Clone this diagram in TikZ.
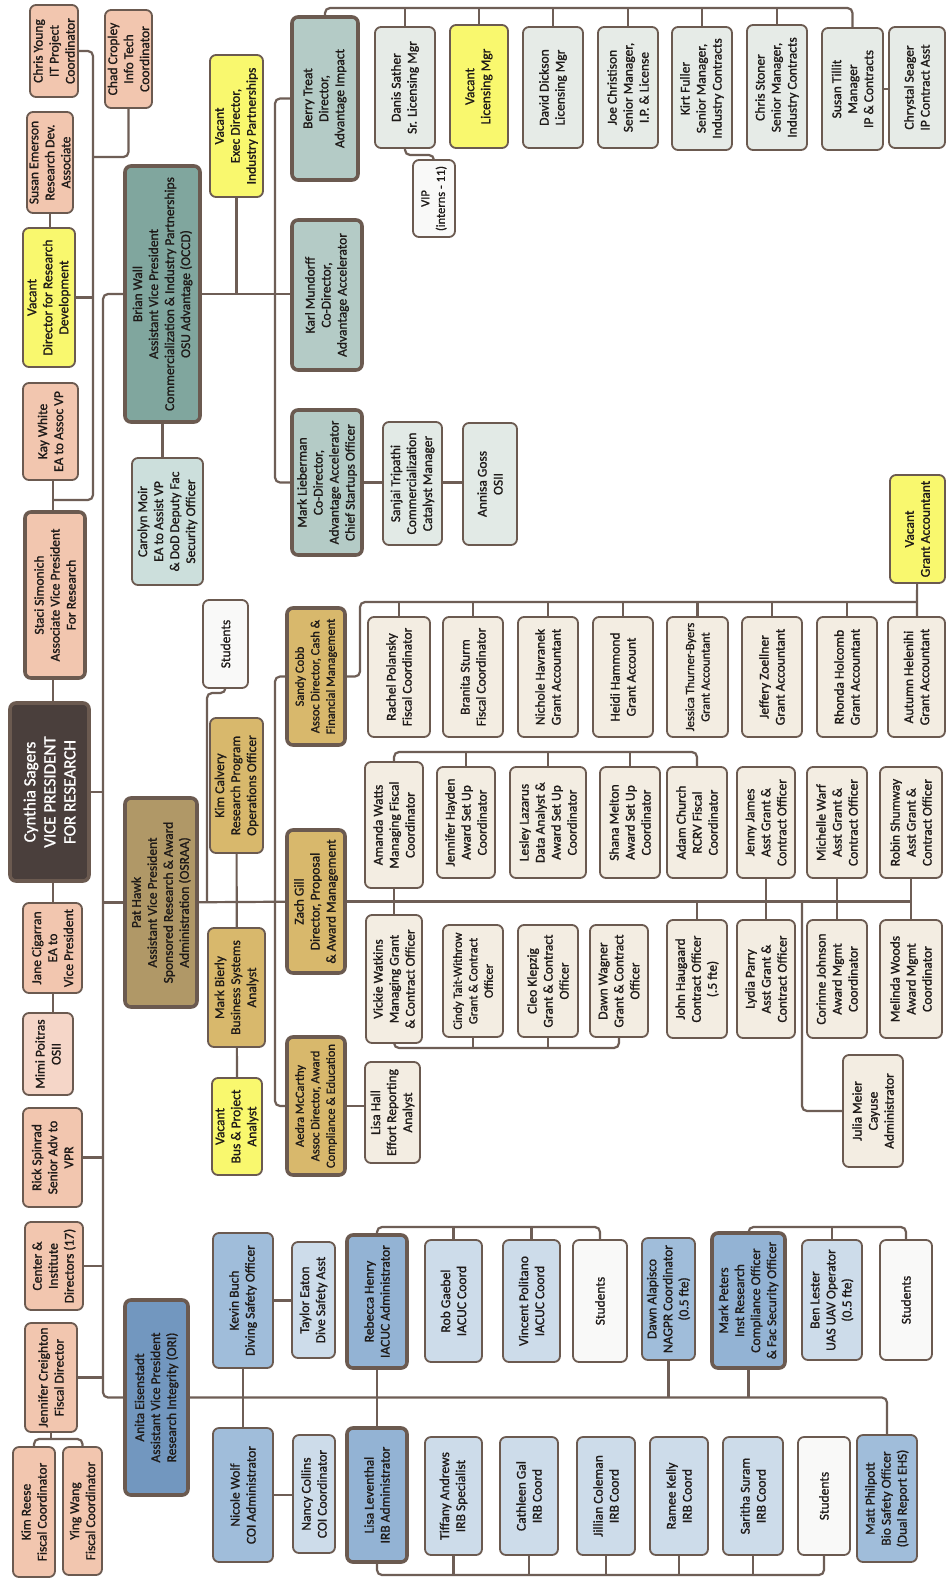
\documentclass[tikz,border=0pt]{standalone}
\usepackage{fontspec}
\setmainfont{Carlito}
\newfontfamily\heavyfont{Carlito}[FakeBold=1.2]
\usetikzlibrary{backgrounds}
\definecolor{bord}{HTML}{6B5A50}
\definecolor{lnc}{HTML}{6E5E56}
\definecolor{txt}{HTML}{1E1A18}
\definecolor{cpeach}{HTML}{F2C6AF}
\definecolor{cpeachl}{HTML}{F5D6C8}
\definecolor{cyel}{HTML}{F9F86E}
\definecolor{cdark}{HTML}{4A3F3C}
\definecolor{cteal}{HTML}{80A69E}
\definecolor{ctealm}{HTML}{B4CBC6}
\definecolor{cteall}{HTML}{E6EBE7}
\definecolor{ctealc}{HTML}{CCDFDC}
\definecolor{cteals}{HTML}{E2EAE6}
\definecolor{ctan}{HTML}{B09867}
\definecolor{cgold}{HTML}{D8B86C}
\definecolor{ccream}{HTML}{F3EDE2}
\definecolor{cwht}{HTML}{F9F9F8}
\definecolor{cblu}{HTML}{7297BF}
\definecolor{cblum}{HTML}{A0BDDA}
\definecolor{cblud}{HTML}{93B3D4}
\definecolor{cblul}{HTML}{CDDCEA}
\tikzset{
  box/.style={rotate=90, draw=bord, line width=1.8pt, rounded corners=6pt, align=center,
    inner sep=1pt, text=txt, font=\heavyfont\fontsize{13.5}{16}\selectfont},
  mgr/.style={line width=3.6pt},
  peach/.style={box, fill=cpeach},
  peachl/.style={box, fill=cpeachl},
  yel/.style={box, fill=cyel},
  boss/.style={box, mgr, fill=cdark, text=white, font=\heavyfont\fontsize{17}{20}\selectfont},
  teal/.style={box, mgr, fill=cteal},
  tealm/.style={box, mgr, fill=ctealm},
  teall/.style={box, fill=cteall},
  tealc/.style={box, fill=ctealc},
  teals/.style={box, fill=cteals},
  tanb/.style={box, mgr, fill=ctan},
  gold/.style={box, fill=cgold},
  goldm/.style={box, mgr, fill=cgold},
  cream/.style={box, fill=ccream},
  wht/.style={box, fill=cwht},
  blu/.style={box, mgr, fill=cblu},
  blum/.style={box, fill=cblum},
  blud/.style={box, mgr, fill=cblud},
  blul/.style={box, fill=cblul},
  small/.style={font=\heavyfont\fontsize{12.5}{15.5}\selectfont},
  conn/.style={draw=lnc, line width=2.2pt, rounded corners=5pt},
}
\newcommand\bx[7]{%
  \pgfmathsetmacro\bxcx{(#3+#5)/2}\pgfmathsetmacro\bxcy{(#4+#6)/2}%
  \pgfmathsetmacro\bxw{#5-#3}\pgfmathsetmacro\bxh{#6-#4}%
  \node[#2, minimum width=\bxh pt, minimum height=\bxw pt] (#1) at (\bxcx,\bxcy) {#7};}
\begin{document}
\begin{tikzpicture}[x=1pt,y=-1pt]
\useasboundingbox (0,0) rectangle (947,1579);
% ---------- left column ----------
\bx{chris}{peach}{30}{5}{78}{97}{Chris Young\\IT Project\\Coordinator}
\bx{chad}{peach}{105}{10}{152}{108}{Chad Cropley\\Info Tech\\Coordinator}
\bx{susan}{peach}{27}{112}{73}{213}{Susan Emerson\\Research Dev.\\Associate}
\bx{vdir}{yel}{23}{228}{75}{367}{Vacant\\Director for Research\\Development}
\bx{kay}{peach}{23}{383}{78}{480}{Kay White\\EA to Assoc VP}
\bx{staci}{peach,mgr}{25}{512}{85}{678}{Staci Simonich\\Associate Vice President\\For Research}
\bx{cynthia}{boss}{10}{703}{89}{881}{Cynthia Sagers\\VICE PRESIDENT\\FOR RESEARCH}
\bx{jane}{peach}{23}{903}{82}{993}{Jane Cigarran\\EA to\\Vice President}
\bx{mimi}{peachl}{23}{1013}{73}{1095}{Mimi Poitras\\OSII}
\bx{rick}{peach}{23}{1108}{82}{1207}{Rick Spinrad\\Senior Adv to\\VPR}
\bx{center}{peach}{25}{1222}{83}{1310}{Center \&\\Institute\\Directors (17)}
\bx{jennifer}{peach}{25}{1323}{77}{1432}{Jennifer Creighton\\Fiscal Director}
\bx{kimr}{peach}{13}{1447}{55}{1577}{Kim Reese\\Fiscal Coordinator}
\bx{ying}{peach}{63}{1447}{102}{1575}{Ying Wang\\Fiscal Coordinator}
% ---------- Brian Wall group ----------
\bx{brian}{teal}{125}{166}{200}{422}{Brian Wall\\Assistant Vice President\\Commercialization \& Industry Partnerships\\OSU Advantage (OCCD)}
\bx{vexec}{yel}{210}{55}{263}{197}{Vacant\\Exec Director,\\Industry Partnerships}
\bx{carolyn}{tealc}{132}{458}{203}{585}{Carolyn Moir\\EA to Assist VP\\\& DoD Deputy Fac\\Security Officer}
\bx{berry}{tealm}{292}{17}{358}{180}{Berry Treat\\Director,\\Advantage Impact}
\bx{karl}{tealm}{292}{220}{362}{370}{Karl Mundorff\\Co-Director,\\Advantage Accelerator}
\bx{ml}{tealm}{292}{410}{362}{555}{Mark Lieberman\\Co-Director,\\Advantage Accelerator\\Chief Startups Officer}
\bx{sanjai}{teals}{383}{422}{442}{545}{Sanjai Tripathi\\Commercialization\\Catalyst Manager}
\bx{annisa}{teals}{463}{423}{517}{545}{Annisa Goss\\OSII}
\bx{danis}{teall}{375}{27}{435}{148}{Danis Sather\\Sr. Licensing Mgr}
\bx{vlic}{yel}{450}{25}{508}{148}{Vacant\\Licensing Mgr}
\bx{david}{teall}{523}{27}{583}{148}{David Dickson\\Licensing Mgr}
\bx{joe}{teall}{598}{27}{658}{148}{Joe Christison\\Senior Manager,\\I.P. \& License}
\bx{kirt}{teall}{672}{27}{732}{150}{Kirt Fuller\\Senior Manager,\\Industry Contracts}
\bx{stoner}{teall}{747}{25}{807}{150}{Chris Stoner\\Senior Manager,\\Industry Contracts}
\bx{tillit}{teall}{822}{28}{883}{150}{Susan Tillit\\Manager\\IP \& Contracts}
\bx{chrystal}{teall}{889}{27}{945}{148}{Chrystal Seager\\IP Contract Asst}
\bx{vip}{wht,small}{413}{160}{455}{237}{VIP\\(interns - 11)}
% ---------- Pat Hawk group ----------
\bx{pat}{tanb}{125}{798}{197}{1007}{Pat Hawk\\Assistant Vice President\\Sponsored Research \& Award\\Administration (OSRAA)}
\bx{stud1}{wht}{203}{600}{248}{688}{Students}
\bx{kim}{gold}{210}{718}{263}{853}{Kim Calvery\\Research Program\\Operations Officer}
\bx{markb}{gold}{208}{928}{265}{1047}{Mark Bierly\\Business Systems\\Analyst}
\bx{vbus}{yel}{212}{1078}{262}{1175}{Vacant\\Bus \& Project\\Analyst}
\bx{zach}{goldm}{287}{830}{345}{973}{Zach Gill\\Director, Proposal\\\& Award Management}
\bx{sandy}{goldm,small}{287}{608}{345}{745}{Sandy Cobb\\Assoc Director, Cash \&\\Financial Management}
\bx{aedra}{goldm,small}{287}{1037}{345}{1175}{Aedra McCarthy\\Assoc Director, Award\\Compliance \& Education}
\bx{lisah}{cream}{365}{1062}{420}{1163}{Lisa Hall\\Effort Reporting\\Analyst}
\bx{rachel}{cream}{368}{617}{430}{737}{Rachel Polansky\\Fiscal Coordinator}
\bx{branita}{cream}{443}{617}{503}{737}{Branita Sturm\\Fiscal Coordinator}
\bx{nichole}{cream}{518}{617}{578}{737}{Nichole Havranek\\Grant Accountant}
\bx{heidi}{cream}{593}{617}{653}{737}{Heidi Hammond\\Grant Account}
\bx{jessica}{cream,small}{667}{617}{728}{737}{Jessica Thurner-Byers\\Grant Accountant}
\bx{jeff}{cream}{742}{617}{802}{737}{Jeffery Zoellner\\Grant Accountant}
\bx{rhonda}{cream}{817}{617}{877}{737}{Rhonda Holcomb\\Grant Accountant}
\bx{autumn}{cream}{888}{617}{945}{737}{Autumn Helenihi\\Grant Accountant}
\bx{vga}{yel}{890}{475}{945}{583}{Vacant\\Grant Accountant}
\bx{amanda}{cream}{365}{762}{423}{888}{Amanda Watts\\Managing Fiscal\\Coordinator}
\bx{jhayden}{cream}{437}{767}{495}{878}{Jennifer Hayden\\Award Set Up\\Coordinator}
\bx{lesley}{cream}{510}{767}{586}{878}{Lesley Lazarus\\Data Analyst \&\\Award Set Up\\Coordinator}
\bx{shana}{cream}{600}{767}{660}{878}{Shana Melton\\Award Set Up\\Coordinator}
\bx{adam}{cream}{667}{767}{727}{878}{Adam Church\\RCRV Fiscal\\Coordinator}
\bx{jenny}{cream}{737}{767}{795}{878}{Jenny James\\Asst Grant \&\\Contract Officer}
\bx{michelle}{cream}{807}{767}{867}{878}{Michelle Warf\\Asst Grant \&\\Contract Officer}
\bx{robin}{cream}{880}{767}{942}{878}{Robin Shumway\\Asst Grant \&\\Contract Officer}
\bx{vickie}{cream}{366}{915}{422}{1043}{Vickie Watkins\\Managing Grant\\\& Contract Officer}
\bx{cindy}{cream,small}{443}{925}{503}{1037}{Cindy Tait-Withrow\\Grant \& Contract\\Officer}
\bx{cleo}{cream}{518}{925}{578}{1037}{Cleo Klepzig\\Grant \& Contract\\Officer}
\bx{dawnw}{cream}{590}{925}{648}{1037}{Dawn Wagner\\Grant \& Contract\\Officer}
\bx{john}{cream}{667}{920}{727}{1038}{John Haugaard\\Contract Officer\\(.5 fte)}
\bx{lydia}{cream}{737}{920}{795}{1038}{Lydia Parry\\Asst Grant \&\\Contract Officer}
\bx{corinne}{cream}{807}{920}{867}{1038}{Corinne Johnson\\Award Mgmt\\Coordinator}
\bx{melinda}{cream}{880}{920}{942}{1038}{Melinda Woods\\Award Mgmt\\Coordinator}
\bx{julia}{cream}{843}{1055}{903}{1167}{Julia Meier\\Cayuse\\Administrator}
% ---------- Anita group ----------
\bx{anita}{blu}{125}{1300}{188}{1495}{Anita Eisenstadt\\Assistant Vice President\\Research Integrity (ORI)}
\bx{kevin}{blum}{213}{1233}{273}{1368}{Kevin Buch\\Diving Safety Officer}
\bx{taylor}{blul}{292}{1242}{335}{1358}{Taylor Eaton\\Dive Safety Asst}
\bx{rebecca}{blud}{347}{1235}{407}{1368}{Rebecca Henry\\IACUC Administrator}
\bx{rob}{blul}{425}{1240}{482}{1362}{Rob Gaebel\\IACUC Coord}
\bx{vincent}{blul}{503}{1240}{560}{1362}{Vincent Politano\\IACUC Coord}
\bx{stud2}{wht}{573}{1240}{627}{1362}{Students}
\bx{dawna}{blum}{642}{1238}{695}{1360}{Dawn Alapisco\\NAGPR Coordinator\\(0.5 fte)}
\bx{mpeters}{blud}{712}{1233}{785}{1368}{Mark Peters\\Inst Research\\Compliance Officer\\\& Fac Security Officer}
\bx{ben}{blul}{802}{1240}{862}{1360}{Ben Lester\\UAS UAV Operator\\(0.5 fte)}
\bx{stud3}{wht}{880}{1240}{932}{1360}{Students}
\bx{nicole}{blum}{213}{1428}{273}{1562}{Nicole Wolf\\COI Administrator}
\bx{nancy}{blul}{293}{1435}{335}{1553}{Nancy Collins\\COI Coordinator}
\bx{lisal}{blud}{347}{1428}{407}{1562}{Lisa Leventhal\\IRB Administrator}
\bx{tiffany}{blul}{425}{1437}{482}{1555}{Tiffany Andrews\\IRB Specialist}
\bx{cathleen}{blul}{500}{1437}{558}{1555}{Cathleen Gal\\IRB Coord}
\bx{jillian}{blul}{577}{1437}{635}{1555}{Jillian Coleman\\IRB Coord}
\bx{ramee}{blul}{650}{1437}{708}{1555}{Ramee Kelly\\IRB Coord}
\bx{saritha}{blul}{723}{1437}{783}{1555}{Saritha Suram\\IRB Coord}
\bx{stud4}{wht}{798}{1437}{850}{1555}{Students}
\bx{matt}{blum}{857}{1435}{917}{1562}{Matt Philpott\\Bio Safety Officer\\(Dual Report EHS)}
% ---------- helper coordinates ----------
\coordinate (lc) at (53,0);
\coordinate (sx) at (93,0);
\coordinate (sj) at (53,500);
\coordinate (cj) at (0,157);
\coordinate (tr) at (103,0);
\coordinate (bx) at (275,0);
\coordinate (bt) at (0,8);
\coordinate (vj) at (0,155);
\coordinate (sp) at (207,693);
\coordinate (px) at (275,0);
\coordinate (sbx) at (360,602);
\coordinate (ab) at (0,752);
\coordinate (vb) at (0,1048);
\coordinate (jm) at (802,0);
\coordinate (rb) at (0,1227);
\coordinate (lb) at (0,1575);
\coordinate (jb) at (0,1439);
% ---------- connectors ----------
\begin{scope}[on background layer]
\fill[white] (0,0) rectangle (947,1579);
\draw[conn] (lc |- kay) -- (lc |- mimi);
\draw[conn] (chris) -- (chris -| sx) -- (sx |- sj) -- (sj);
\draw[conn] (chad) -- (chad |- cj) -- (cj -| sx);
\draw[conn] (vdir) -- (vdir -| sx);
\draw[conn] (susan) -- (susan |- vdir);
\draw[conn] (brian) -- (brian -| tr) -- (tr |- anita) -- (anita);
\draw[conn] (cynthia) -- (cynthia -| tr);
\draw[conn] (pat) -- (pat -| tr);
\draw[conn] (rick) -- (rick -| tr);
\draw[conn] (center) -- (center -| tr);
\draw[conn] (jennifer) -- (jennifer -| tr);
\draw[conn] (jennifer) -- (jennifer |- jb);
\draw[conn] (kimr) -- (kimr |- jb) -- (ying |- jb) -- (ying);
% Brian
\draw[conn] (brian) -- (brian -| karl);
\draw[conn] (vexec) -- (vexec |- brian);
\draw[conn] (brian) -- (brian |- carolyn);
\draw[conn] (berry) -- (berry -| bx) -- (bx |- ml) -- (ml);
\draw[conn] (ml) -- (ml -| annisa);
\draw[conn] (berry) -- (berry |- bt) -- (tillit |- bt) -- (tillit);
\foreach \n in {danis,vlic,david,joe,kirt,stoner} \draw[conn] (\n) -- (\n |- bt);
\draw[conn] (tillit) -- (tillit -| chrystal);
\draw[conn] (danis) -- (danis |- vj) -- (vip |- vj) -- (vip);
% Pat
\draw[conn] (pat) -- (zach);
\draw[conn] (kim) -- (vbus);
\draw[conn] (stud1) -- (stud1 |- sp) -- (sp) -- (sp |- pat);
\draw[conn] (sandy) -- (sandy -| px) -- (px |- aedra) -- (aedra);
\draw[conn] (aedra) -- (aedra -| lisah);
\draw[conn] (sandy) -- (sandy -| sbx) -- (sbx) -- (vga |- sbx);
\draw[conn] (vga) -- (autumn);
\foreach \n in {rachel,branita,nichole,heidi,jessica,jeff,rhonda} \draw[conn] (\n) -- (\n |- sbx);
\draw[conn] (zach) -- (zach -| robin);
\draw[conn] (amanda) -- (vickie);
\draw[conn] (jenny) -- (lydia);
\draw[conn] (michelle) -- (corinne);
\draw[conn] (robin) -- (melinda);
\draw[conn] (john) -- (john |- zach);
\draw[conn] (zach -| jm) -- (jm |- julia) -- (julia);
\draw[conn] (amanda) -- (amanda |- ab) -- (adam |- ab) -- (adam);
\foreach \n in {jhayden,lesley,shana} \draw[conn] (\n) -- (\n |- ab);
\draw[conn] (vickie) -- (vickie |- vb) -- (dawnw |- vb) -- (dawnw);
\foreach \n in {cindy,cleo} \draw[conn] (\n) -- (\n |- vb);
% Anita
\draw[conn] (anita) -- (anita -| matt) -- (matt);
\draw[conn] (kevin) -- (nicole);
\draw[conn] (rebecca) -- (lisal);
\draw[conn] (dawna) -- (dawna |- anita);
\draw[conn] (mpeters) -- (mpeters |- anita);
\draw[conn] (kevin) -- (kevin -| taylor);
\draw[conn] (nicole) -- (nicole -| nancy);
\draw[conn] (rebecca) -- (rebecca |- rb) -- (stud2 |- rb) -- (stud2);
\foreach \n in {rob,vincent} \draw[conn] (\n) -- (\n |- rb);
\draw[conn] (mpeters) -- (mpeters |- rb) -- (stud3 |- rb) -- (stud3);
\draw[conn] (ben) -- (ben |- rb);
\draw[conn] (lisal) -- (lisal |- lb) -- (stud4 |- lb) -- (stud4);
\foreach \n in {tiffany,cathleen,jillian,ramee,saritha} \draw[conn] (\n) -- (\n |- lb);
\end{scope}
\end{tikzpicture}
\end{document}
